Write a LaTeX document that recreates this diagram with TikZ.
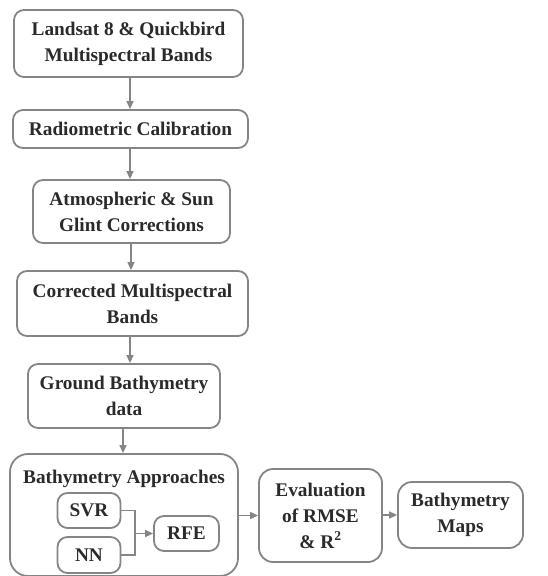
\documentclass[tikz,border=0pt]{standalone}
\usepackage{fontspec}
\setmainfont{Liberation Serif}
\usetikzlibrary{arrows.meta}
\definecolor{linec}{HTML}{858585}
\definecolor{textc}{HTML}{2A2A2A}
\begin{document}
\begin{tikzpicture}[x=1pt,y=-1pt,
  box/.style={draw=linec, line width=1.8pt, rounded corners=10pt, text=textc,
    font=\fontsize{19.3}{26}\selectfont\bfseries, align=center, inner sep=0pt},
  arr/.style={draw=linec, line width=1.6pt, -{Triangle[length=8pt,width=7pt]}},
  lnk/.style={draw=linec, line width=1.6pt}]
\useasboundingbox (0,0) rectangle (547,576);
\node[box, minimum width=229pt, minimum height=67pt] (b1) at (128.5,43.5) {Landsat 8 \& Quickbird\\Multispectral Bands};
\node[box, minimum width=235pt, minimum height=38pt] (b2) at (130.5,129) {Radiometric Calibration};
\node[box, minimum width=197pt, minimum height=63pt] (b3) at (131.5,211.5) {Atmospheric \& Sun\\Glint Corrections};
\node[box, minimum width=231pt, minimum height=65pt] (b4) at (132.5,303.5) {Corrected Multispectral\\Bands};
\node[box, minimum width=192pt, minimum height=64pt] (b5) at (124,396) {Ground Bathymetry\\data};
\node[box, rounded corners=18pt, minimum width=228pt, minimum height=122pt] (b6) at (124,515) {};
\node[text=textc, font=\fontsize{19.3}{26}\selectfont\bfseries, inner sep=0pt] (t6) at (124,479) {Bathymetry Approaches};
\node[box, minimum width=63pt, minimum height=35pt] (svr) at (89,510.5) {SVR};
\node[box, minimum width=63pt, minimum height=36pt] (nn) at (89,555) {NN};
\node[box, minimum width=65pt, minimum height=35pt] (rfe) at (186.5,533.5) {RFE};
\node[box, rounded corners=14pt, minimum width=123pt, minimum height=93pt] (ev) at (320.5,515.5) {Evaluation\\of RMSE\\\& R\textsuperscript{2}};
\node[box, rounded corners=14pt, minimum width=125pt, minimum height=66pt] (mp) at (460.5,515) {Bathymetry\\Maps};
\coordinate (j) at (135,533.5);
\draw[arr] (b1.south -| 130,0) -- (b2.north -| 130,0);
\draw[arr] (b2.south -| 130,0) -- (b3.north -| 130,0);
\draw[arr] (b3.south -| 131,0) -- (b4.north -| 131,0);
\draw[arr] (b4.south -| 130,0) -- (b5.north -| 130,0);
\draw[arr] (b5.south -| 123,0) -- (b6.north -| 123,0);
\draw[lnk] (svr.east) -| (j |- svr.east) -- (j |- nn.east) -- (nn.east);
\draw[arr] (j) -- (rfe.west);
\draw[arr] (b6.east |- ev.west) -- (ev.west);
\draw[arr] (ev.east |- mp.west) -- (mp.west);
\end{tikzpicture}
\end{document}
